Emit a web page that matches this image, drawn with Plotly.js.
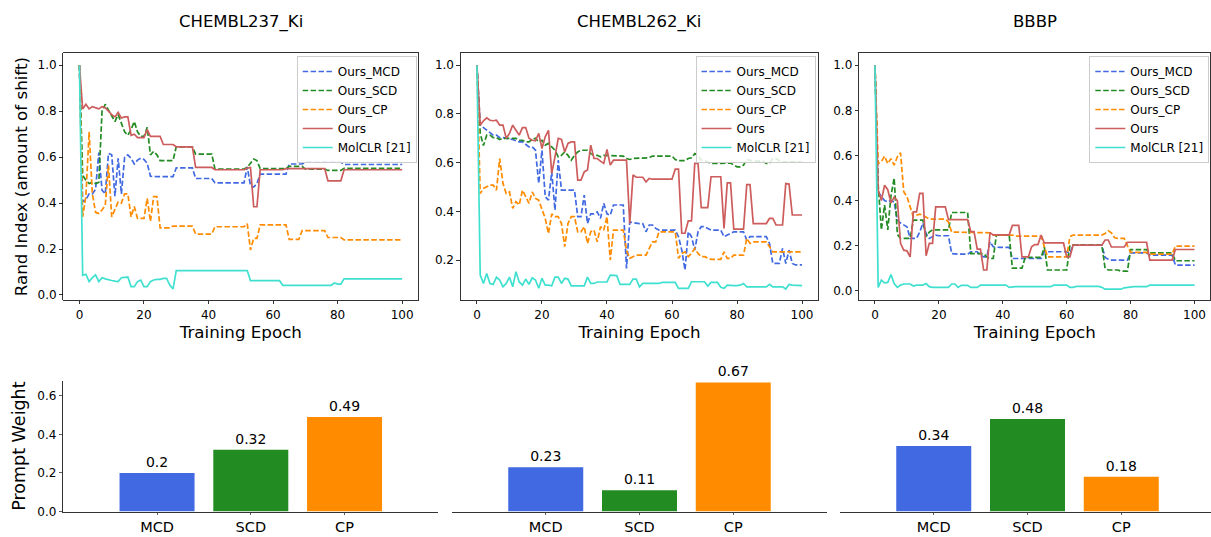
<!DOCTYPE html>
<html>
<head>
<meta charset="utf-8">
<script src="https://cdn.plot.ly/plotly-3.0.1.min.js"></script>
<style>html,body{margin:0;padding:0;background:#fff;}#chart{width:1211px;height:537px;}</style>
</head>
<body>
<div id="chart"></div>
<script>
// ---------- data ----------
const panelTitles = ["CHEMBL237_Ki", "CHEMBL262_Ki", "BBBP"];
const seriesNames = ["Ours_MCD", "Ours_SCD", "Ours_CP", "Ours", "MolCLR [21]"];
const epochs = Array.from({length: 101}, (_, i) => i);

// CHEMBL237_Ki
const A_MCD = [1.0,0.405,0.415,0.44,0.44,0.46,0.62,0.456,0.44,0.616,
  0.61,0.43,0.595,0.44,0.60,0.61,0.595,0.57,0.587,0.595,
  0.59,0.573,0.517,0.515,0.515,0.515,0.515,0.515,0.515,0.515,
  0.553,0.553,0.553,0.553,0.553,0.553,0.507,0.507,0.507,0.507,
  0.507,0.507,0.488,0.488,0.488,0.488,0.488,0.488,0.488,0.488,
  0.488,0.488,0.558,0.475,0.47,0.485,0.526,0.526,0.526,0.526,
  0.526,0.526,0.526,0.526,0.526,0.57,0.57,0.57,0.57,0.57,
  0.578,0.578,0.578,0.578,0.578,0.578,0.578,0.578,0.578,0.578,
  0.578,0.578,0.568,0.568,0.568,0.568,0.568,0.568,0.568,0.568,
  0.568,0.568,0.568,0.568,0.568,0.568,0.568,0.568,0.568,0.568,
  0.568];
const A_SCD = [1.0,0.52,0.50,0.485,0.49,0.485,0.49,0.80,0.83,0.805,
  0.78,0.755,0.785,0.745,0.71,0.695,0.72,0.755,0.71,0.69,
  0.69,0.73,0.61,0.625,0.61,0.585,0.585,0.585,0.585,0.585,
  0.645,0.645,0.645,0.645,0.645,0.645,0.613,0.613,0.613,0.613,
  0.613,0.613,0.548,0.548,0.548,0.548,0.548,0.548,0.548,0.548,
  0.548,0.548,0.555,0.575,0.592,0.585,0.55,0.55,0.55,0.55,
  0.55,0.55,0.55,0.55,0.55,0.56,0.56,0.56,0.56,0.56,
  0.548,0.548,0.548,0.548,0.548,0.548,0.548,0.542,0.542,0.542,
  0.542,0.542,0.551,0.551,0.551,0.551,0.551,0.551,0.551,0.551,
  0.551,0.551,0.551,0.551,0.551,0.551,0.551,0.551,0.551,0.551,
  0.551];
const A_CP = [1.0,0.34,0.43,0.71,0.44,0.36,0.355,0.37,0.39,0.565,
  0.34,0.37,0.405,0.40,0.44,0.44,0.34,0.385,0.333,0.333,
  0.333,0.42,0.32,0.428,0.428,0.292,0.292,0.292,0.292,0.30,
  0.30,0.30,0.30,0.30,0.30,0.30,0.265,0.265,0.265,0.265,
  0.265,0.265,0.297,0.297,0.297,0.297,0.297,0.297,0.297,0.297,
  0.297,0.297,0.31,0.196,0.246,0.246,0.305,0.305,0.305,0.305,
  0.305,0.305,0.305,0.305,0.305,0.242,0.242,0.242,0.242,0.28,
  0.28,0.28,0.28,0.28,0.28,0.28,0.28,0.25,0.25,0.25,
  0.25,0.25,0.24,0.24,0.24,0.24,0.24,0.24,0.24,0.24,
  0.24,0.24,0.24,0.24,0.24,0.24,0.24,0.24,0.24,0.24,
  0.24];
const A_OURS = [1.0,0.81,0.83,0.81,0.82,0.815,0.81,0.82,0.815,0.80,
  0.785,0.775,0.795,0.77,0.775,0.775,0.695,0.70,0.685,0.685,
  0.685,0.72,0.69,0.69,0.69,0.69,0.655,0.655,0.655,0.655,
  0.645,0.645,0.645,0.645,0.645,0.645,0.555,0.555,0.555,0.555,
  0.555,0.555,0.545,0.545,0.545,0.545,0.545,0.545,0.545,0.545,
  0.545,0.545,0.552,0.555,0.384,0.384,0.545,0.545,0.545,0.545,
  0.545,0.545,0.545,0.545,0.55,0.55,0.55,0.55,0.55,0.55,
  0.55,0.55,0.55,0.55,0.55,0.55,0.55,0.497,0.497,0.497,
  0.497,0.497,0.545,0.545,0.545,0.545,0.545,0.545,0.545,0.545,
  0.545,0.545,0.545,0.545,0.545,0.545,0.545,0.545,0.545,0.545,
  0.545];
const A_MOL = [1.0,0.085,0.09,0.058,0.075,0.087,0.058,0.075,0.07,0.065,
  0.063,0.06,0.058,0.075,0.078,0.078,0.036,0.036,0.058,0.065,
  0.036,0.036,0.058,0.065,0.068,0.068,0.072,0.072,0.043,0.026,
  0.106,0.106,0.106,0.106,0.106,0.106,0.106,0.106,0.106,0.106,
  0.106,0.106,0.106,0.106,0.106,0.106,0.106,0.106,0.106,0.106,
  0.106,0.106,0.106,0.062,0.062,0.062,0.062,0.062,0.062,0.062,
  0.062,0.062,0.062,0.042,0.042,0.042,0.042,0.042,0.042,0.042,
  0.042,0.042,0.042,0.042,0.042,0.042,0.042,0.042,0.042,0.052,
  0.047,0.047,0.07,0.07,0.07,0.07,0.07,0.07,0.07,0.07,
  0.07,0.07,0.07,0.07,0.07,0.07,0.07,0.07,0.07,0.07,
  0.07];

// CHEMBL262_Ki
const B_MCD = [1.0,0.754,0.744,0.733,0.72,0.713,0.713,0.703,0.703,0.70,
  0.70,0.695,0.69,0.685,0.685,0.676,0.665,0.665,0.651,0.515,
  0.651,0.46,0.446,0.562,0.405,0.61,0.487,0.487,0.487,0.487,
  0.487,0.378,0.378,0.467,0.35,0.39,0.39,0.398,0.371,0.433,
  0.39,0.384,0.426,0.426,0.426,0.426,0.166,0.357,0.353,0.35,
  0.35,0.35,0.316,0.344,0.344,0.33,0.323,0.323,0.323,0.323,
  0.323,0.323,0.296,0.241,0.159,0.316,0.296,0.241,0.316,0.337,
  0.337,0.33,0.323,0.323,0.323,0.323,0.296,0.303,0.31,0.316,
  0.316,0.316,0.316,0.282,0.296,0.296,0.296,0.296,0.296,0.296,
  0.268,0.186,0.186,0.186,0.248,0.186,0.241,0.186,0.18,0.18,
  0.18];
const B_SCD = [1.0,0.72,0.67,0.713,0.713,0.703,0.703,0.695,0.70,0.70,
  0.70,0.70,0.70,0.692,0.692,0.685,0.685,0.695,0.70,0.685,
  0.692,0.672,0.679,0.665,0.651,0.624,0.63,0.644,0.63,0.61,
  0.63,0.644,0.651,0.651,0.651,0.637,0.63,0.63,0.624,0.63,
  0.63,0.63,0.627,0.627,0.627,0.627,0.617,0.613,0.617,0.617,
  0.62,0.62,0.62,0.62,0.627,0.627,0.627,0.627,0.627,0.627,
  0.627,0.613,0.608,0.608,0.608,0.617,0.62,0.637,0.63,0.61,
  0.61,0.603,0.597,0.597,0.597,0.597,0.597,0.598,0.598,0.59,
  0.583,0.583,0.59,0.613,0.608,0.606,0.606,0.606,0.606,0.597,
  0.597,0.617,0.617,0.608,0.603,0.603,0.603,0.603,0.603,0.603,
  0.603];
const B_CP = [1.0,0.473,0.494,0.50,0.508,0.508,0.487,0.617,0.515,0.473,
  0.48,0.412,0.44,0.426,0.487,0.46,0.433,0.48,0.453,0.446,
  0.405,0.371,0.309,0.39,0.378,0.378,0.35,0.255,0.35,0.378,
  0.378,0.316,0.316,0.337,0.268,0.316,0.323,0.275,0.337,0.323,
  0.378,0.20,0.323,0.323,0.323,0.323,0.241,0.207,0.214,0.22,
  0.22,0.22,0.22,0.248,0.275,0.275,0.316,0.316,0.316,0.316,
  0.316,0.316,0.207,0.227,0.234,0.214,0.227,0.248,0.227,0.214,
  0.214,0.207,0.203,0.203,0.203,0.203,0.234,0.207,0.207,0.22,
  0.22,0.22,0.22,0.289,0.268,0.275,0.275,0.275,0.275,0.275,
  0.255,0.234,0.234,0.234,0.234,0.234,0.234,0.234,0.234,0.234,
  0.234];
const B_OURS = [1.0,0.754,0.772,0.784,0.774,0.772,0.774,0.754,0.754,0.70,
  0.72,0.754,0.733,0.713,0.744,0.744,0.70,0.692,0.69,0.72,
  0.658,0.706,0.733,0.556,0.624,0.70,0.695,0.644,0.679,0.685,
  0.685,0.528,0.528,0.562,0.57,0.672,0.617,0.617,0.606,0.597,
  0.654,0.59,0.61,0.61,0.61,0.61,0.61,0.35,0.549,0.54,
  0.54,0.54,0.521,0.535,0.532,0.532,0.532,0.532,0.532,0.532,
  0.532,0.573,0.573,0.31,0.31,0.361,0.361,0.597,0.597,0.415,
  0.415,0.415,0.542,0.542,0.542,0.542,0.33,0.517,0.517,0.327,
  0.327,0.327,0.327,0.51,0.51,0.35,0.35,0.35,0.35,0.35,
  0.371,0.371,0.344,0.344,0.344,0.514,0.512,0.385,0.385,0.385,
  0.385];
const B_MOL = [1.0,0.138,0.104,0.145,0.104,0.10,0.13,0.118,0.09,0.104,
  0.13,0.09,0.152,0.11,0.097,0.122,0.10,0.127,0.118,0.084,
  0.125,0.097,0.097,0.094,0.13,0.13,0.104,0.125,0.122,0.094,
  0.094,0.094,0.094,0.094,0.13,0.104,0.104,0.11,0.11,0.11,
  0.11,0.138,0.138,0.136,0.10,0.10,0.10,0.10,0.122,0.122,
  0.09,0.104,0.104,0.104,0.104,0.104,0.104,0.108,0.108,0.108,
  0.108,0.108,0.084,0.084,0.084,0.084,0.111,0.111,0.111,0.111,
  0.111,0.093,0.108,0.108,0.108,0.088,0.084,0.097,0.095,0.095,
  0.095,0.097,0.104,0.09,0.09,0.09,0.09,0.09,0.09,0.09,
  0.10,0.09,0.09,0.09,0.09,0.081,0.10,0.097,0.097,0.097,
  0.095];

// BBBP
const C_MCD = [1.0,0.44,0.417,0.40,0.394,0.40,0.394,0.313,0.30,0.29,
  0.284,0.232,0.232,0.232,0.26,0.30,0.254,0.232,0.24,0.247,
  0.244,0.244,0.244,0.244,0.165,0.162,0.162,0.162,0.162,0.162,
  0.173,0.173,0.173,0.158,0.15,0.15,0.217,0.195,0.192,0.192,
  0.192,0.192,0.192,0.143,0.143,0.143,0.143,0.143,0.143,0.143,
  0.143,0.143,0.143,0.173,0.173,0.173,0.173,0.173,0.173,0.173,
  0.173,0.165,0.202,0.202,0.202,0.202,0.202,0.202,0.202,0.202,
  0.202,0.202,0.148,0.14,0.136,0.136,0.136,0.136,0.136,0.136,
  0.168,0.168,0.168,0.168,0.168,0.168,0.158,0.158,0.158,0.158,
  0.158,0.158,0.158,0.158,0.114,0.114,0.114,0.114,0.114,0.114,
  0.114];
const C_SCD = [1.0,0.47,0.27,0.38,0.27,0.42,0.50,0.25,0.232,0.232,
  0.232,0.232,0.313,0.313,0.313,0.313,0.24,0.26,0.27,0.27,
  0.27,0.27,0.27,0.27,0.347,0.347,0.347,0.347,0.347,0.347,
  0.165,0.165,0.165,0.165,0.165,0.15,0.143,0.143,0.247,0.247,
  0.247,0.247,0.247,0.10,0.10,0.10,0.10,0.148,0.148,0.148,
  0.148,0.148,0.148,0.195,0.092,0.092,0.092,0.092,0.092,0.092,
  0.092,0.202,0.202,0.202,0.202,0.202,0.202,0.202,0.202,0.202,
  0.202,0.202,0.10,0.092,0.092,0.092,0.092,0.087,0.087,0.087,
  0.182,0.182,0.182,0.182,0.182,0.182,0.168,0.168,0.168,0.168,
  0.168,0.168,0.168,0.168,0.133,0.133,0.133,0.133,0.133,0.133,
  0.133];
const C_CP = [1.0,0.564,0.572,0.597,0.564,0.586,0.557,0.594,0.612,0.439,
  0.417,0.372,0.328,0.335,0.34,0.335,0.328,0.318,0.318,0.318,
  0.318,0.318,0.318,0.305,0.26,0.26,0.26,0.26,0.26,0.26,
  0.26,0.26,0.26,0.26,0.26,0.26,0.257,0.247,0.247,0.247,
  0.247,0.247,0.247,0.247,0.242,0.242,0.242,0.242,0.242,0.242,
  0.242,0.242,0.242,0.195,0.15,0.15,0.15,0.15,0.15,0.15,
  0.15,0.24,0.247,0.247,0.247,0.247,0.247,0.247,0.247,0.247,
  0.247,0.247,0.254,0.266,0.257,0.235,0.232,0.232,0.232,0.2,
  0.17,0.17,0.17,0.17,0.17,0.17,0.162,0.162,0.162,0.162,
  0.162,0.162,0.162,0.162,0.198,0.198,0.198,0.198,0.198,0.198,
  0.198];
const C_OURS = [1.0,0.446,0.40,0.468,0.448,0.39,0.415,0.40,0.21,0.18,
  0.177,0.15,0.35,0.35,0.432,0.432,0.155,0.21,0.21,0.372,
  0.372,0.372,0.372,0.315,0.315,0.315,0.315,0.315,0.315,0.315,
  0.262,0.262,0.185,0.185,0.092,0.092,0.258,0.248,0.248,0.248,
  0.248,0.248,0.248,0.29,0.29,0.29,0.15,0.15,0.15,0.195,
  0.205,0.205,0.247,0.212,0.212,0.212,0.212,0.212,0.212,0.212,
  0.15,0.15,0.202,0.202,0.202,0.202,0.202,0.202,0.202,0.202,
  0.202,0.202,0.225,0.225,0.194,0.194,0.194,0.194,0.194,0.215,
  0.215,0.215,0.215,0.215,0.215,0.215,0.136,0.136,0.136,0.136,
  0.136,0.136,0.136,0.136,0.183,0.183,0.183,0.183,0.183,0.183,
  0.183];
const C_MOL = [1.0,0.015,0.047,0.035,0.037,0.072,0.032,0.015,0.025,0.03,
  0.03,0.03,0.021,0.025,0.025,0.025,0.032,0.018,0.015,0.015,
  0.015,0.015,0.015,0.015,0.03,0.03,0.015,0.024,0.024,0.024,
  0.015,0.015,0.015,0.025,0.025,0.025,0.025,0.025,0.025,0.025,
  0.025,0.025,0.015,0.018,0.018,0.018,0.018,0.018,0.015,0.015,
  0.015,0.015,0.015,0.015,0.015,0.018,0.025,0.025,0.025,0.025,
  0.025,0.015,0.015,0.019,0.019,0.019,0.019,0.019,0.019,0.019,
  0.019,0.015,0.007,0.007,0.007,0.007,0.007,0.007,0.013,0.015,
  0.018,0.018,0.018,0.018,0.018,0.018,0.025,0.025,0.025,0.025,
  0.025,0.025,0.025,0.025,0.025,0.025,0.025,0.025,0.025,0.025,
  0.025];

// Prompt weights (bottom row)
const promptCats = ["MCD", "SCD", "CP"];
const W_A = [0.2, 0.32, 0.49];
const W_B = [0.23, 0.11, 0.67];
const W_C = [0.34, 0.48, 0.18];

// ---------- styling ----------
const FONT = "DejaVu Sans";
const colors = ["#4169E1", "#228B22", "#FF8C00", "#CD5C5C", "#40E0D0"];
const dashes = ["5.5px,2.4px", "5.5px,2.4px", "5.5px,2.4px", "solid", "solid"];
const W = 1211, H = 537;
const px = (a, b) => [a / W, b / W];
const py = (top, bottom) => [(H - bottom) / H, (H - top) / H];

const panels = [
  {series: [A_MCD, A_SCD, A_CP, A_OURS, A_MOL], yr: [-0.022, 1.052], dom: px(63.3, 418.3), leg: 'legend', legX: 416.7 / W},
  {series: [B_MCD, B_SCD, B_CP, B_OURS, B_MOL], yr: [0.036, 1.049], dom: px(460.7, 818.3), leg: 'legend2', legX: 815.5 / W},
  {series: [C_MCD, C_SCD, C_CP, C_OURS, C_MOL], yr: [-0.041, 1.053], dom: px(859, 1210.5), leg: 'legend3', legX: 1209.3 / W}
];
const weights = [W_A, W_B, W_C];
const bottomDom = [[63.3, 438.3, 3.0], [452, 827, 3.0], [840, 1211, 2.957]];

const traces = [];
const layout = {
  width: W, height: H,
  margin: {l: 0, r: 0, t: 0, b: 0},
  paper_bgcolor: "#fff", plot_bgcolor: "#fff",
  font: {family: FONT, color: "#000", size: 12},
  showlegend: true,
  annotations: []
};

const topY = py(53.3, 300);
const botY = py(380.7, 511.5);

panels.forEach((p, i) => {
  const n = i + 1;
  const xa = n === 1 ? 'x' : 'x' + n;
  const ya = n === 1 ? 'y' : 'y' + n;
  p.series.forEach((s, k) => {
    traces.push({
      type: 'scatter', mode: 'lines', x: epochs, y: s,
      name: seriesNames[k], xaxis: xa, yaxis: ya, legend: p.leg,
      line: {color: colors[k], width: 1.7, dash: dashes[k]},
      hoverinfo: 'skip'
    });
  });
  layout['xaxis' + (n === 1 ? '' : n)] = {
    domain: p.dom, anchor: ya, range: [-5, 105],
    tickvals: [0, 20, 40, 60, 80, 100],
    ticks: 'outside', ticklen: 3.5, tickwidth: 0.8, tickcolor: '#000',
    showline: true, linecolor: '#000', linewidth: 0.8, mirror: true,
    showgrid: false, zeroline: false,
    tickfont: {family: FONT, size: 12, color: '#000'},
    title: {text: 'Training Epoch', font: {family: FONT, size: 16.7, color: '#000'}, standoff: 4}
  };
  const yTicks = n === 2 ? [0.2, 0.4, 0.6, 0.8, 1.0] : [0, 0.2, 0.4, 0.6, 0.8, 1.0];
  layout['yaxis' + (n === 1 ? '' : n)] = {
    domain: topY, anchor: xa, range: p.yr,
    tickvals: yTicks, tickformat: '.1f',
    ticks: 'outside', ticklen: 3.5, tickwidth: 0.8, tickcolor: '#000',
    showline: true, linecolor: '#000', linewidth: 0.8, mirror: true,
    showgrid: false, zeroline: false,
    tickfont: {family: FONT, size: 12, color: '#000'},
    title: n === 1 ? {text: 'Rand Index (amount of shift)', font: {family: FONT, size: 16.7, color: '#000'}, standoff: 5} : {text: ''}
  };
  layout[p.leg] = {
    x: p.legX, xanchor: 'right', xref: 'paper',
    y: (H - 56) / H, yanchor: 'top', yref: 'paper',
    bgcolor: 'rgba(255,255,255,0.85)', bordercolor: '#cccccc', borderwidth: 1,
    font: {family: FONT, size: 12, color: '#000'},
    tracegroupgap: 0, itemwidth: 30
  };
  layout.annotations.push({
    text: panelTitles[i], xref: 'paper', yref: 'paper',
    x: (p.dom[0] + p.dom[1]) / 2, y: (H - 22) / H,
    xanchor: 'center', yanchor: 'middle', showarrow: false,
    font: {family: FONT, size: 16.5, color: '#000'}
  });

  // bottom bar panel
  const m = n + 3;
  const bd = bottomDom[i];
  traces.push({
    type: 'bar', x: promptCats, y: weights[i],
    xaxis: 'x' + m, yaxis: 'y' + m,
    marker: {color: colors.slice(0, 3)}, width: 0.8,
    text: weights[i].map(v => String(v)), textposition: 'outside',
    textfont: {family: FONT, size: 14, color: '#000'},
    cliponaxis: false, showlegend: false, hoverinfo: 'skip'
  });
  layout['xaxis' + m] = {
    domain: px(bd[0], bd[1]), anchor: 'y' + m, range: [-1, bd[2]],
    type: 'category',
    ticks: 'outside', ticklen: 2.5, tickwidth: 0.8, tickcolor: '#333',
    showline: true, linecolor: '#333', linewidth: 1,
    showgrid: false, zeroline: false,
    tickfont: {family: FONT, size: 14.5, color: '#000'}
  };
  layout['yaxis' + m] = n === 1 ? {
    domain: botY, anchor: 'x' + m, range: [0, 0.679],
    tickvals: [0, 0.2, 0.4, 0.6], tickformat: '.1f',
    ticks: 'outside', ticklen: 3.5, tickwidth: 0.8, tickcolor: '#333',
    showline: true, linecolor: '#333', linewidth: 1,
    showgrid: false, zeroline: false,
    tickfont: {family: FONT, size: 12, color: '#000'},
    title: {text: 'Prompt Weight', font: {family: FONT, size: 17.5, color: '#000'}, standoff: 7}
  } : {
    domain: botY, anchor: 'x' + m, range: [0, 0.679], visible: false
  };
});

Plotly.newPlot('chart', traces, layout, {staticPlot: true, displayModeBar: false});
</script>
</body>
</html>
